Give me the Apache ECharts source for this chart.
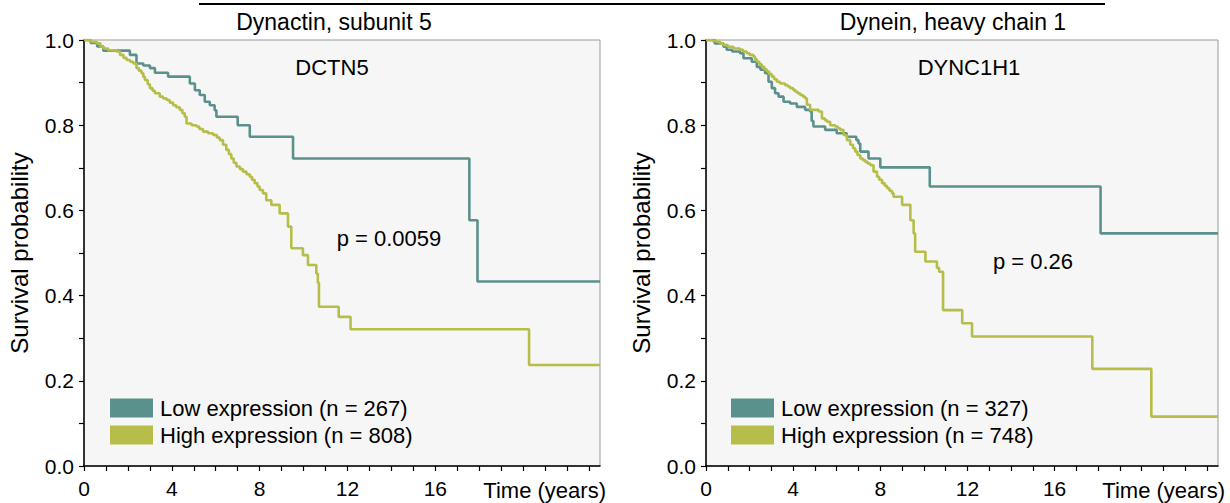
<!DOCTYPE html>
<html>
<head>
<meta charset="utf-8">
<script src="https://cdn.jsdelivr.net/npm/echarts@6/dist/echarts.min.js"></script>
<style>html,body{margin:0;padding:0;background:#fff;}#c{width:1230px;height:503px;}</style>
</head>
<body>
<div id="c"></div>
<script>
// ---- data (time in years, survival probability) ----
var xTickLabels = [0, 4, 8, 12, 16];
var yTickLabels = [0.0, 0.2, 0.4, 0.6, 0.8, 1.0];
var panelTitles = ['Dynactin, subunit 5', 'Dynein, heavy chain 1'];
var geneNames = ['DCTN5', 'DYNC1H1'];
var pValues = ['p = 0.0059', 'p = 0.26'];
var leftLowName = 'Low expression (n = 267)';
var leftHighName = 'High expression (n = 808)';
var rightLowName = 'Low expression (n = 327)';
var rightHighName = 'High expression (n = 748)';

var leftLow = [[0,1],[0.3,0.993],[0.6,0.985],[0.88,0.975],[2.09,0.965],[2.39,0.945],[2.7,0.94],[3.0,0.934],[3.23,0.923],[3.83,0.914],[4.82,0.898],[5.05,0.882],[5.27,0.871],[5.5,0.855],[5.73,0.847],[5.95,0.835],[6.03,0.820],[7.0,0.800],[7.55,0.773],[9.52,0.722],[17.55,0.577],[17.92,0.433],[23.5,0.433]];

var leftHigh = [[0,1],[0.3,0.996],[0.58,0.992],[0.75,0.985],[0.88,0.98],[1.1,0.976],[1.48,0.973],[1.64,0.965],[1.8,0.958],[1.94,0.953],[2.1,0.949],[2.24,0.945],[2.39,0.934],[2.5,0.928],[2.62,0.922],[2.7,0.914],[2.77,0.906],[2.9,0.896],[3.0,0.887],[3.12,0.881],[3.23,0.875],[3.45,0.867],[3.6,0.863],[3.76,0.859],[3.9,0.853],[4.06,0.847],[4.2,0.842],[4.36,0.836],[4.48,0.828],[4.59,0.820],[4.67,0.804],[4.9,0.800],[5.12,0.797],[5.25,0.791],[5.42,0.785],[5.65,0.781],[5.88,0.777],[6.05,0.771],[6.18,0.765],[6.33,0.754],[6.48,0.742],[6.6,0.732],[6.71,0.722],[6.82,0.712],[6.94,0.703],[7.1,0.697],[7.24,0.691],[7.4,0.685],[7.55,0.679],[7.65,0.672],[7.77,0.664],[7.9,0.656],[8.0,0.648],[8.15,0.640],[8.3,0.624],[8.53,0.613],[8.91,0.593],[9.29,0.562],[9.44,0.511],[9.97,0.495],[10.2,0.472],[10.58,0.452],[10.65,0.43],[10.7,0.374],[11.6,0.350],[12.14,0.321],[20.27,0.237],[23.5,0.237]];

var rightLow = [[0,1],[0.4,0.992],[0.80,0.984],[0.95,0.977],[1.2,0.973],[1.56,0.969],[1.72,0.957],[2.1,0.949],[2.33,0.937],[2.5,0.930],[2.71,0.922],[2.87,0.902],[3.02,0.887],[3.17,0.875],[3.33,0.867],[3.56,0.855],[3.86,0.851],[4.17,0.843],[4.55,0.836],[4.78,0.832],[4.85,0.81],[4.93,0.797],[5.47,0.789],[6.0,0.781],[6.46,0.773],[6.9,0.765],[7.0,0.757],[7.08,0.738],[7.46,0.722],[8.0,0.701],[10.27,0.656],[18.11,0.546],[23.5,0.546]];

var rightHigh = [[0,1],[0.3,0.998],[0.49,0.996],[0.65,0.992],[0.80,0.988],[1.0,0.984],[1.26,0.980],[1.56,0.977],[1.7,0.973],[1.87,0.969],[2.0,0.965],[2.18,0.961],[2.25,0.955],[2.33,0.949],[2.45,0.943],[2.56,0.937],[2.68,0.931],[2.79,0.926],[2.9,0.920],[3.02,0.914],[3.13,0.908],[3.25,0.902],[3.40,0.898],[3.63,0.894],[3.75,0.891],[3.86,0.887],[4.0,0.883],[4.09,0.879],[4.2,0.875],[4.32,0.871],[4.45,0.867],[4.55,0.863],[4.63,0.848],[4.78,0.836],[5.17,0.832],[5.32,0.816],[5.45,0.812],[5.55,0.808],[5.70,0.800],[5.93,0.797],[6.05,0.793],[6.16,0.789],[6.31,0.777],[6.47,0.765],[6.62,0.754],[6.75,0.746],[6.85,0.738],[6.95,0.730],[7.08,0.722],[7.2,0.718],[7.31,0.714],[7.42,0.710],[7.54,0.706],[7.69,0.691],[7.85,0.679],[7.95,0.672],[8.08,0.664],[8.2,0.658],[8.31,0.652],[8.42,0.646],[8.54,0.640],[8.61,0.632],[9.0,0.613],[9.38,0.577],[9.53,0.546],[9.6,0.503],[10.07,0.480],[10.6,0.465],[10.7,0.456],[10.88,0.366],[11.76,0.335],[12.21,0.304],[17.73,0.228],[20.44,0.116],[23.5,0.116]];

// ---- styling ----
var LOW = '#5b918c';
var HIGH = '#b6bd48';
var FONT = '"Liberation Sans", Arial, sans-serif';

function xAxisCfg(gi) {
  return {
    type: 'value', gridIndex: gi, min: 0, max: 23.5, interval: 1,
    axisLine: { show: true, onZero: false, lineStyle: { color: '#000', width: 1.5 } },
    axisTick: { show: true, length: 5, lineStyle: { color: '#000', width: 1.2 } },
    splitLine: { show: false },
    axisLabel: {
      margin: 12, color: '#000', fontSize: 21, fontFamily: FONT, showMaxLabel: false,
      formatter: function (v) { return xTickLabels.indexOf(v) >= 0 ? String(v) : ''; }
    }
  };
}
function yAxisCfg(gi) {
  return {
    type: 'value', gridIndex: gi, min: 0, max: 1, interval: 0.2,
    axisLine: { show: true, lineStyle: { color: '#000', width: 1.5 } },
    axisTick: { show: true, length: 5, lineStyle: { color: '#000', width: 1.2 } },
    minorTick: { show: true, splitNumber: 2, length: 5, lineStyle: { color: '#000', width: 1.2 } },
    splitLine: { show: false },
    axisLabel: {
      margin: 10, color: '#000', fontSize: 21, fontFamily: FONT,
      formatter: function (v) {
        for (var i = 0; i < yTickLabels.length; i++) if (Math.abs(yTickLabels[i] - v) < 1e-9) return yTickLabels[i].toFixed(1);
        return '';
      }
    }
  };
}
function lineSeries(name, data, color, gi) {
  return {
    name: name, type: 'line', step: 'end', data: data, xAxisIndex: gi, yAxisIndex: gi,
    showSymbol: false, symbol: 'none', color: color,
    lineStyle: { color: color, width: 2.6 }, itemStyle: { color: color },
    animation: false, silent: true
  };
}
function txt(text, x, y, opts) {
  opts = opts || {};
  return {
    type: 'text', x: x, y: y, rotation: opts.rotation || 0, silent: true,
    style: { text: text, fill: '#000', font: (opts.size || 22) + 'px ' + FONT,
      textAlign: opts.align || 'center', textVerticalAlign: 'middle' }
  };
}
function legendCfg(left, names) {
  return { left: left, top: 397, orient: 'vertical', itemWidth: 43, itemHeight: 19, itemGap: 5, icon: 'rect',
    selectedMode: false, padding: 0,
    textStyle: { fontSize: 22, fontFamily: FONT, color: '#000', padding: [0, 0, 0, 2] },
    data: names };
}

var chart = echarts.init(document.getElementById('c'), null, { renderer: 'svg' });
chart.setOption({
  animation: false,
  backgroundColor: '#fff',
  grid: [
    { left: 84, top: 40, width: 516, height: 426, show: true, backgroundColor: '#f6f6f6', borderColor: '#9a9a9a', borderWidth: 1 },
    { left: 706, top: 40, width: 512, height: 426, show: true, backgroundColor: '#f6f6f6', borderColor: '#9a9a9a', borderWidth: 1 }
  ],
  xAxis: [xAxisCfg(0), xAxisCfg(1)],
  yAxis: [yAxisCfg(0), yAxisCfg(1)],
  legend: [legendCfg(110, [leftLowName, leftHighName]), legendCfg(731, [rightLowName, rightHighName])],
  series: [
    lineSeries(leftLowName, leftLow, LOW, 0),
    lineSeries(leftHighName, leftHigh, HIGH, 0),
    lineSeries(rightLowName, rightLow, LOW, 1),
    lineSeries(rightHighName, rightHigh, HIGH, 1)
  ],
  graphic: [
    { type: 'line', shape: { x1: 199, y1: 4, x2: 1105, y2: 4 }, style: { stroke: '#000', lineWidth: 2 }, silent: true },
    txt(panelTitles[0], 334, 22, { size: 23 }),
    txt(panelTitles[1], 953, 22, { size: 23 }),
    txt(geneNames[0], 332, 67),
    txt(geneNames[1], 969, 67),
    txt(pValues[0], 389, 238),
    txt(pValues[1], 1033, 261),
    txt('Survival probability', 19, 253, { rotation: Math.PI / 2, size: 24 }),
    txt('Survival probability', 641, 253, { rotation: Math.PI / 2, size: 24 }),
    txt('Time (years)', 606, 490, { align: 'right' }),
    txt('Time (years)', 1225, 490, { align: 'right' })
  ]
});
</script>
</body>
</html>
